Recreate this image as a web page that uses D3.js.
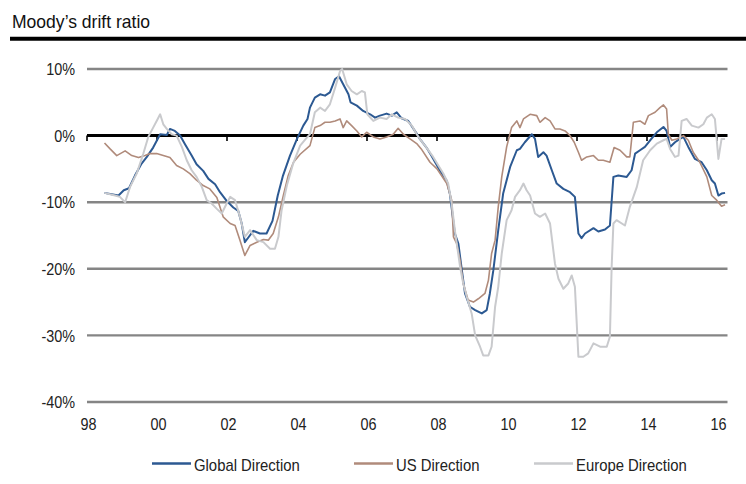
<!DOCTYPE html>
<html><head><meta charset="utf-8">
<script src="https://cdn.jsdelivr.net/npm/d3@7"></script>
<style>
html,body{margin:0;padding:0;background:#fff;}
text{font-family:"Liberation Sans",Arial,sans-serif;}
</style></head>
<body><svg id="c" width="746" height="484"></svg>
<script>
const title = "Moody’s drift ratio";
const yTicks = [10, 0, -10, -20, -30, -40];
const xTicks = [1998, 2000, 2002, 2004, 2006, 2008, 2010, 2012, 2014, 2016];
const seriesNames = ["Global Direction", "US Direction", "Europe Direction"];

const globalDir = [[1998.5,-8.6],[1998.7,-8.8],[1998.9,-9.0],[1999.05,-8.2],[1999.2,-7.9],[1999.37,-6.0],[1999.56,-4.2],[1999.71,-3.2],[1999.89,-1.8],[2000.0,-0.7],[2000.09,0.2],[2000.28,0.1],[2000.37,1.0],[2000.51,0.7],[2000.66,0.0],[2000.8,-1.3],[2000.99,-3.0],[2001.13,-4.3],[2001.32,-5.3],[2001.47,-6.5],[2001.66,-7.3],[2001.8,-8.5],[2001.99,-9.8],[2002.18,-10.8],[2002.32,-11.3],[2002.42,-13.2],[2002.51,-16.0],[2002.61,-15.3],[2002.75,-14.3],[2002.94,-14.7],[2003.13,-14.7],[2003.3,-12.8],[2003.45,-9.0],[2003.6,-6.0],[2003.8,-3.0],[2004.0,-0.5],[2004.18,1.5],[2004.3,2.5],[2004.37,4.2],[2004.51,5.7],[2004.66,6.2],[2004.8,6.0],[2004.94,6.5],[2005.09,8.5],[2005.2,8.9],[2005.32,7.7],[2005.47,6.2],[2005.53,5.0],[2005.71,4.5],[2005.89,3.7],[2006.09,3.2],[2006.23,2.7],[2006.37,3.0],[2006.56,3.3],[2006.71,3.0],[2006.85,3.5],[2006.99,2.6],[2007.18,2.2],[2007.42,0.3],[2007.51,-0.5],[2007.7,-1.8],[2007.85,-3.1],[2008.09,-5.3],[2008.28,-6.8],[2008.37,-8.8],[2008.51,-14.7],[2008.61,-16.2],[2008.71,-20.2],[2008.8,-23.7],[2008.94,-25.7],[2009.09,-26.2],[2009.28,-26.7],[2009.42,-26.2],[2009.51,-23.7],[2009.61,-20.2],[2009.75,-14.2],[2009.89,-8.7],[2010.09,-4.7],[2010.28,-2.2],[2010.37,-2.0],[2010.51,-1.0],[2010.71,0.2],[2010.8,-0.5],[2010.89,-3.2],[2011.04,-2.5],[2011.13,-3.0],[2011.28,-5.2],[2011.42,-7.2],[2011.61,-8.0],[2011.8,-8.5],[2011.94,-9.2],[2012.04,-14.7],[2012.13,-15.4],[2012.23,-14.7],[2012.47,-13.9],[2012.61,-14.4],[2012.8,-14.1],[2012.94,-13.5],[2013.04,-6.2],[2013.18,-6.0],[2013.42,-6.2],[2013.56,-5.2],[2013.66,-2.7],[2013.8,-2.2],[2013.94,-1.7],[2014.09,-0.7],[2014.28,0.5],[2014.47,1.3],[2014.56,0.7],[2014.66,-1.7],[2014.8,-1.0],[2014.94,-0.5],[2015.04,-0.2],[2015.18,-1.7],[2015.37,-3.5],[2015.56,-4.0],[2015.71,-5.2],[2015.85,-6.7],[2015.94,-7.2],[2016.04,-9.0],[2016.13,-8.7],[2016.23,-8.6]];

const usDir = [[1998.5,-1.1],[1998.66,-2.0],[1998.85,-3.0],[1999.09,-2.3],[1999.28,-3.0],[1999.47,-3.3],[1999.66,-3.0],[1999.8,-2.7],[1999.99,-2.7],[2000.18,-3.0],[2000.37,-3.3],[2000.56,-4.5],[2000.75,-5.0],[2000.94,-5.7],[2001.13,-6.7],[2001.32,-7.5],[2001.51,-8.0],[2001.71,-9.3],[2001.89,-12.2],[2002.09,-13.2],[2002.23,-13.5],[2002.37,-15.7],[2002.51,-18.0],[2002.66,-16.5],[2002.85,-16.0],[2003.04,-15.6],[2003.18,-15.7],[2003.32,-14.7],[2003.47,-12.2],[2003.61,-9.0],[2003.75,-6.0],[2003.9,-4.0],[2004.09,-2.8],[2004.37,-1.5],[2004.51,1.2],[2004.66,1.5],[2004.8,2.0],[2004.94,2.0],[2005.09,2.2],[2005.23,2.5],[2005.32,1.2],[2005.42,2.2],[2005.56,1.5],[2005.71,0.7],[2005.85,-0.2],[2005.99,0.5],[2006.18,-0.2],[2006.37,-0.5],[2006.56,-0.2],[2006.75,0.2],[2006.89,1.1],[2007.04,0.2],[2007.23,-0.5],[2007.42,-1.2],[2007.55,-2.0],[2007.8,-4.0],[2008.0,-5.0],[2008.09,-5.7],[2008.28,-7.2],[2008.42,-9.7],[2008.47,-15.2],[2008.56,-16.2],[2008.66,-18.7],[2008.75,-22.2],[2008.89,-24.7],[2009.04,-25.0],[2009.18,-24.5],[2009.37,-23.7],[2009.47,-21.7],[2009.56,-17.7],[2009.66,-15.7],[2009.75,-10.7],[2009.85,-6.2],[2009.99,-1.7],[2010.13,1.2],[2010.28,2.2],[2010.37,1.2],[2010.47,2.5],[2010.66,3.2],[2010.85,3.0],[2010.94,2.0],[2011.09,2.7],[2011.23,2.2],[2011.37,1.0],[2011.51,1.0],[2011.66,0.7],[2011.8,0.0],[2011.92,-1.0],[2012.04,-2.5],[2012.13,-3.7],[2012.28,-3.2],[2012.47,-3.0],[2012.61,-3.7],[2012.75,-3.7],[2012.94,-4.0],[2013.06,-1.8],[2013.23,-2.2],[2013.42,-3.2],[2013.51,-3.2],[2013.61,2.0],[2013.8,2.2],[2013.94,1.7],[2014.04,3.0],[2014.23,3.5],[2014.37,4.2],[2014.47,4.6],[2014.56,4.0],[2014.61,0.2],[2014.71,-0.7],[2014.85,-0.5],[2015.04,0.0],[2015.18,-0.7],[2015.32,-2.5],[2015.51,-4.0],[2015.71,-6.2],[2015.85,-9.0],[2015.99,-9.7],[2016.13,-10.6],[2016.23,-10.4]];

const europeDir = [[1998.5,-8.6],[1998.8,-9.0],[1998.94,-9.2],[1999.09,-10.0],[1999.23,-7.7],[1999.42,-5.7],[1999.61,-2.7],[1999.75,-0.2],[1999.89,1.2],[1999.99,2.2],[2000.09,3.2],[2000.18,1.7],[2000.28,1.0],[2000.42,0.2],[2000.56,0.0],[2000.71,-1.7],[2000.85,-3.7],[2000.99,-5.2],[2001.13,-6.2],[2001.28,-7.7],[2001.42,-9.7],[2001.56,-10.2],[2001.71,-11.0],[2001.85,-11.7],[2001.99,-10.2],[2002.09,-9.2],[2002.23,-9.7],[2002.37,-12.2],[2002.51,-15.2],[2002.66,-14.2],[2002.85,-15.7],[2003.04,-16.0],[2003.23,-17.0],[2003.37,-17.0],[2003.47,-15.2],[2003.56,-11.2],[2003.71,-7.5],[2003.89,-4.2],[2004.09,-1.5],[2004.25,-0.5],[2004.37,0.2],[2004.51,3.5],[2004.66,4.2],[2004.8,3.7],[2004.94,4.7],[2005.09,7.2],[2005.23,9.7],[2005.29,10.0],[2005.42,7.7],[2005.56,6.7],[2005.71,6.2],[2005.85,6.7],[2005.94,6.5],[2006.01,3.2],[2006.18,2.2],[2006.37,2.7],[2006.56,2.5],[2006.71,3.2],[2006.89,2.7],[2007.09,2.5],[2007.28,1.5],[2007.42,0.2],[2007.55,-0.8],[2007.7,-1.8],[2007.89,-3.2],[2008.18,-5.7],[2008.32,-7.2],[2008.42,-10.2],[2008.51,-14.2],[2008.66,-19.7],[2008.75,-22.2],[2008.85,-24.2],[2008.99,-26.7],[2009.09,-30.0],[2009.23,-31.7],[2009.32,-33.0],[2009.47,-33.0],[2009.56,-31.7],[2009.66,-25.7],[2009.75,-22.7],[2009.85,-17.7],[2009.99,-12.7],[2010.13,-11.2],[2010.23,-9.2],[2010.37,-8.2],[2010.47,-7.2],[2010.56,-8.2],[2010.66,-9.0],[2010.8,-11.7],[2010.94,-12.2],[2011.09,-11.7],[2011.23,-13.2],[2011.37,-19.2],[2011.47,-21.5],[2011.61,-23.0],[2011.75,-22.2],[2011.85,-21.0],[2011.94,-22.7],[2012.04,-33.2],[2012.18,-33.2],[2012.32,-32.7],[2012.47,-31.2],[2012.66,-31.7],[2012.85,-31.7],[2012.94,-30.2],[2012.99,-19.7],[2013.04,-13.2],[2013.13,-12.7],[2013.37,-13.5],[2013.51,-10.7],[2013.71,-7.7],[2013.89,-3.7],[2014.09,-2.2],[2014.28,-1.2],[2014.47,-0.7],[2014.56,-0.5],[2014.66,-2.0],[2014.8,-3.2],[2014.9,-3.0],[2014.99,2.2],[2015.13,2.5],[2015.28,1.5],[2015.47,1.2],[2015.61,1.7],[2015.71,2.7],[2015.85,3.2],[2015.94,2.5],[2016.04,-3.5],[2016.13,-0.5],[2016.23,-0.5]];

const colors = ["#2c5992", "#b08b7b", "#c9cacd"];
const widths = [2, 1.6, 2];
const narrow = 0.9;

const svg = d3.select("#c");
const x = d3.scaleLinear().domain([1998, 2016]).range([87, 717]);
const y = d3.scaleLinear().domain([-40, 10]).range([402, 69]);
const xEnd = x(2016.3);

// title
svg.append("text").attr("transform", "translate(12,27.5) scale(0.975,1)")
  .attr("font-size", 18).attr("fill", "#111").text(title);
svg.append("line").attr("x1", 10).attr("x2", 746).attr("y1", 38.8).attr("y2", 38.8)
  .attr("stroke", "#000").attr("stroke-width", 4);

// gridlines
svg.append("g").selectAll("line").data(yTicks.filter(d => d !== 0)).join("line")
  .attr("x1", x(1998)).attr("x2", xEnd)
  .attr("y1", d => y(d)).attr("y2", d => y(d))
  .attr("stroke", "#858585").attr("stroke-width", 2.4);

// y labels
const yAxis = svg.append("g").attr("transform", `translate(${x(1998) - 12},0)`)
  .call(d3.axisLeft(y).tickValues(yTicks).tickSize(0).tickPadding(0).tickFormat(d => d + "%"));
yAxis.select(".domain").remove();
yAxis.selectAll("text").attr("font-size", 16).attr("fill", "#222").attr("dy", "0.36em")
  .attr("transform", `scale(${narrow},1)`)
  .style("font-family", '"Liberation Sans",Arial,sans-serif');

// x labels
const xAxis = svg.append("g").attr("transform", `translate(1,${y(-40) + 17})`)
  .call(d3.axisBottom(x).tickValues(xTicks).tickSize(0).tickPadding(0)
    .tickFormat(d => String(d % 100).padStart(2, "0")));
xAxis.select(".domain").remove();
xAxis.selectAll("text").attr("font-size", 16).attr("fill", "#222")
  .attr("transform", `scale(${narrow},1)`)
  .style("font-family", '"Liberation Sans",Arial,sans-serif');

// zero axis line with ticks
svg.append("line").attr("x1", x(1998)).attr("x2", xEnd).attr("y1", y(0)).attr("y2", y(0))
  .attr("stroke", "#000").attr("stroke-width", 3);
svg.append("g").selectAll("line").data(xTicks).join("line")
  .attr("x1", d => x(d)).attr("x2", d => x(d))
  .attr("y1", y(0)).attr("y2", y(0) + 5.5)
  .attr("stroke", "#000").attr("stroke-width", 1.6);

// series
const line = d3.line().x(d => x(d[0])).y(d => y(d[1]));
const seriesData = [globalDir, usDir, europeDir];
seriesData.forEach((s, i) => {
  svg.append("path").datum(s).attr("d", line).attr("fill", "none")
    .attr("stroke", colors[i]).attr("stroke-width", widths[i]).attr("stroke-linejoin", "round");
});

// legend
const legendX = [152, 354, 534];
const lg = svg.append("g");
seriesNames.forEach((n, i) => {
  lg.append("line").attr("x1", legendX[i]).attr("x2", legendX[i] + 39)
    .attr("y1", 463.5).attr("y2", 463.5).attr("stroke", colors[i]).attr("stroke-width", 2.6);
  lg.append("text").attr("transform", `translate(${legendX[i] + 42},471) scale(0.93,1)`)
    .attr("font-size", 16).attr("fill", "#222").text(n);
});
</script></body></html>
